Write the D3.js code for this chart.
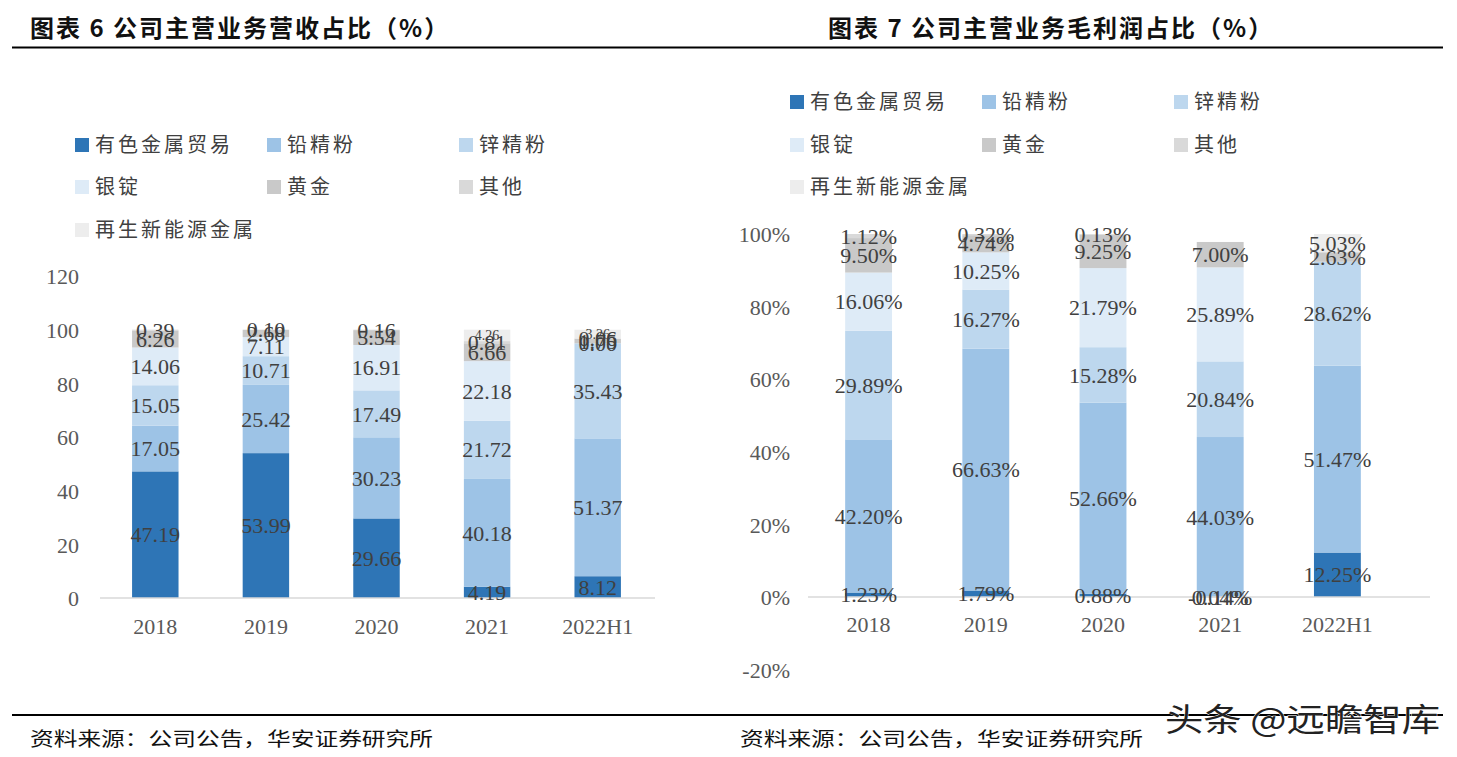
<!DOCTYPE html>
<html><head><meta charset="utf-8">
<script src="https://cdnjs.cloudflare.com/ajax/libs/d3/7.8.5/d3.min.js"></script>
<style>
body{margin:0;background:#fff;}
svg{display:block;}
</style></head>
<body><svg id="c" width="1457" height="757"></svg>
<script>
// ---------- data ----------
const seriesNames = ["有色金属贸易","铅精粉","锌精粉","银锭","黄金","其他","再生新能源金属"];
const colors = ["#2e75b6","#9dc3e6","#bdd7ee","#deebf7","#c9c9c9","#d9d9d9","#ededed"];
const categories = ["2018","2019","2020","2021","2022H1"];

// 图表6 营收占比 (null = no segment / no label)
const revTrade   = [47.19, 53.99, 29.66, 4.19, 8.12];
const revLead    = [17.05, 25.42, 30.23, 40.18, 51.37];
const revZinc    = [15.05, 10.71, 17.49, 21.72, 35.43];
const revSilver  = [14.06, 7.11, 16.91, 22.18, 0.00];
const revGold    = [6.26, 2.68, 5.54, 6.66, 1.75];
const revOther   = [0.39, 0.10, 0.16, 0.81, 0.06];
const revRenew   = [null, null, null, 4.26, 3.26];
const revTicks   = [0, 20, 40, 60, 80, 100, 120];

// 图表7 毛利润占比 (%)
const gpTrade    = [1.23, 1.79, 0.88, 0.04, 12.25];
const gpLead     = [42.20, 66.63, 52.66, 44.03, 51.47];
const gpZinc     = [29.89, 16.27, 15.28, 20.84, 28.62];
const gpSilver   = [16.06, 10.25, 21.79, 25.89, null];
const gpGold     = [9.50, 4.74, 9.25, 7.00, 2.63];
const gpOther    = [1.12, 0.32, 0.13, -0.14, null];
const gpRenew    = [null, null, null, null, 5.03];
const gpTicks    = [-20, 0, 20, 40, 60, 80, 100];

const svg = d3.select("#c");
const serif = "'Liberation Serif','DejaVu Serif',serif";
const cjk = "'Noto Sans CJK SC','Noto Sans',sans-serif";

// ---------- headers & frame ----------
function title(x, txt){
  svg.append("text").attr("x", x).attr("y", 37).attr("font-family", cjk)
    .attr("font-weight", 700).attr("font-size", 24).attr("letter-spacing", 2).attr("fill", "#111").text(txt);
}
title(30, "图表 6 公司主营业务营收占比（%）");
title(828, "图表 7 公司主营业务毛利润占比（%）");
svg.append("line").attr("x1",12).attr("x2",1443).attr("y1",47.5).attr("y2",47.5).attr("stroke","#000").attr("stroke-width",2);
svg.append("line").attr("x1",12).attr("x2",1443).attr("y1",715).attr("y2",715).attr("stroke","#000").attr("stroke-width",2);
function source(x){
  svg.append("text").attr("x", x).attr("y", 746).attr("font-family", cjk)
    .attr("font-size", 19).attr("fill", "#111").attr("textLength", 403).attr("lengthAdjust","spacingAndGlyphs")
    .text("资料来源：公司公告，华安证券研究所");
}
source(30); source(740);

// ---------- chart builder ----------
function chart(opt){
  const data = categories.map((c,i)=>{
    const o = {cat:c};
    opt.series.forEach((arr,k)=>{ o[seriesNames[k]] = arr[i] == null ? 0 : arr[i]; });
    return o;
  });
  const stack = d3.stack().keys(seriesNames).offset(d3.stackOffsetDiverging)(data);
  const x = d3.scaleBand().domain(categories).range(opt.xRange).paddingInner(opt.pad).paddingOuter(opt.pad/2);
  const y = d3.scaleLinear().domain(opt.yDomain).range(opt.yRange);
  const g = svg.append("g");

  // y tick labels
  const yAxis = d3.axisLeft(y).tickValues(opt.ticks).tickSize(0).tickPadding(0).tickFormat(opt.tickFmt);
  const ya = g.append("g").attr("transform", `translate(${opt.yLabelX},0)`).call(yAxis);
  ya.select(".domain").remove();
  ya.selectAll("text").attr("font-family", serif).attr("font-size", 22).attr("fill", "#595959").attr("dy","0.35em");

  // bars
  stack.forEach((layer,k)=>{
    g.append("g").selectAll("rect").data(layer).join("rect")
      .attr("x", d=>x(d.data.cat)).attr("width", x.bandwidth())
      .attr("y", d=>y(Math.max(d[0],d[1]))).attr("height", d=>Math.abs(y(d[0])-y(d[1])))
      .attr("fill", colors[k]);
  });

  // zero axis line
  g.append("line").attr("x1", opt.axisX[0]).attr("x2", opt.axisX[1]).attr("y1", y(0)).attr("y2", y(0))
    .attr("stroke", "#d9d9d9").attr("stroke-width", 1.5);

  // x labels
  const xAxis = d3.axisBottom(x).tickSize(0).tickPadding(0);
  const xa = g.append("g").attr("transform", `translate(0,${opt.xLabelY})`).call(xAxis);
  xa.select(".domain").remove();
  xa.selectAll("text").attr("font-family", serif).attr("font-size", 22).attr("fill", "#595959").attr("dy","0.35em");

  // data labels: centre of each segment (zero-valued segments sit on top of the positive stack)
  const labels = [];
  categories.forEach((c,i)=>{
    let pos = 0, neg = 0;
    opt.series.forEach((arr,k)=>{
      const v = arr[i];
      if (v == null) return;
      let mid;
      if (v >= 0) { mid = pos + v/2; pos += v; } else { mid = neg + v/2; neg += v; }
      labels.push({cat:c, k, v, mid});
    });
  });
  g.append("g").selectAll("text").data(labels).join("text")
    .attr("x", d=>x(d.cat)+x.bandwidth()/2)
    .attr("y", d=>y(d.mid)).attr("dy","0.35em")
    .attr("text-anchor","middle").attr("font-family", serif)
    .attr("font-size", d=>opt.smallKeys.includes(d.k) ? 14 : 22).attr("fill", "#404040")
    .text(d=>d.v.toFixed(2) + opt.suffix);

  // legend
  const lg = g.append("g");
  seriesNames.forEach((n,k)=>{
    const col = k%3, row = Math.floor(k/3);
    const lx = opt.legX[col], ly = opt.legY[row];
    lg.append("rect").attr("x", lx).attr("y", ly-7).attr("width", 14).attr("height", 14).attr("fill", colors[k]);
    lg.append("text").attr("x", lx+20).attr("y", ly).attr("dy","0.35em").attr("font-family", cjk)
      .attr("font-size", 20).attr("letter-spacing", 3).attr("fill", "#404040").text(n);
  });
}

chart({
  series:[revTrade,revLead,revZinc,revSilver,revGold,revOther,revRenew],
  xRange:[100,653], pad:0.58, yDomain:[0,120], yRange:[598,276], ticks:revTicks,
  tickFmt:d=>d, yLabelX:79, axisX:[100,655], xLabelY:626, suffix:"", smallKeys:[6],
  legX:[75,267,459], legY:[145,187,230]
});
chart({
  series:[gpTrade,gpLead,gpZinc,gpSilver,gpGold,gpOther,gpRenew],
  xRange:[810,1396], pad:0.6, yDomain:[-20,100], yRange:[669.6,234], ticks:gpTicks,
  tickFmt:d=>d+"%", yLabelX:790, axisX:[808,1430], xLabelY:624, suffix:"%", smallKeys:[],
  legX:[790,982,1174], legY:[102,145,187]
});

// watermark
svg.append("text").attr("x", 1165).attr("y", 731).attr("font-family", cjk).attr("font-size", 32)
  .attr("fill", "#222").attr("stroke", "#fff").attr("stroke-width", 0.8).attr("paint-order","stroke")
  .attr("textLength", 275).attr("lengthAdjust","spacingAndGlyphs")
  .text("头条 @远瞻智库");
</script></body></html>
